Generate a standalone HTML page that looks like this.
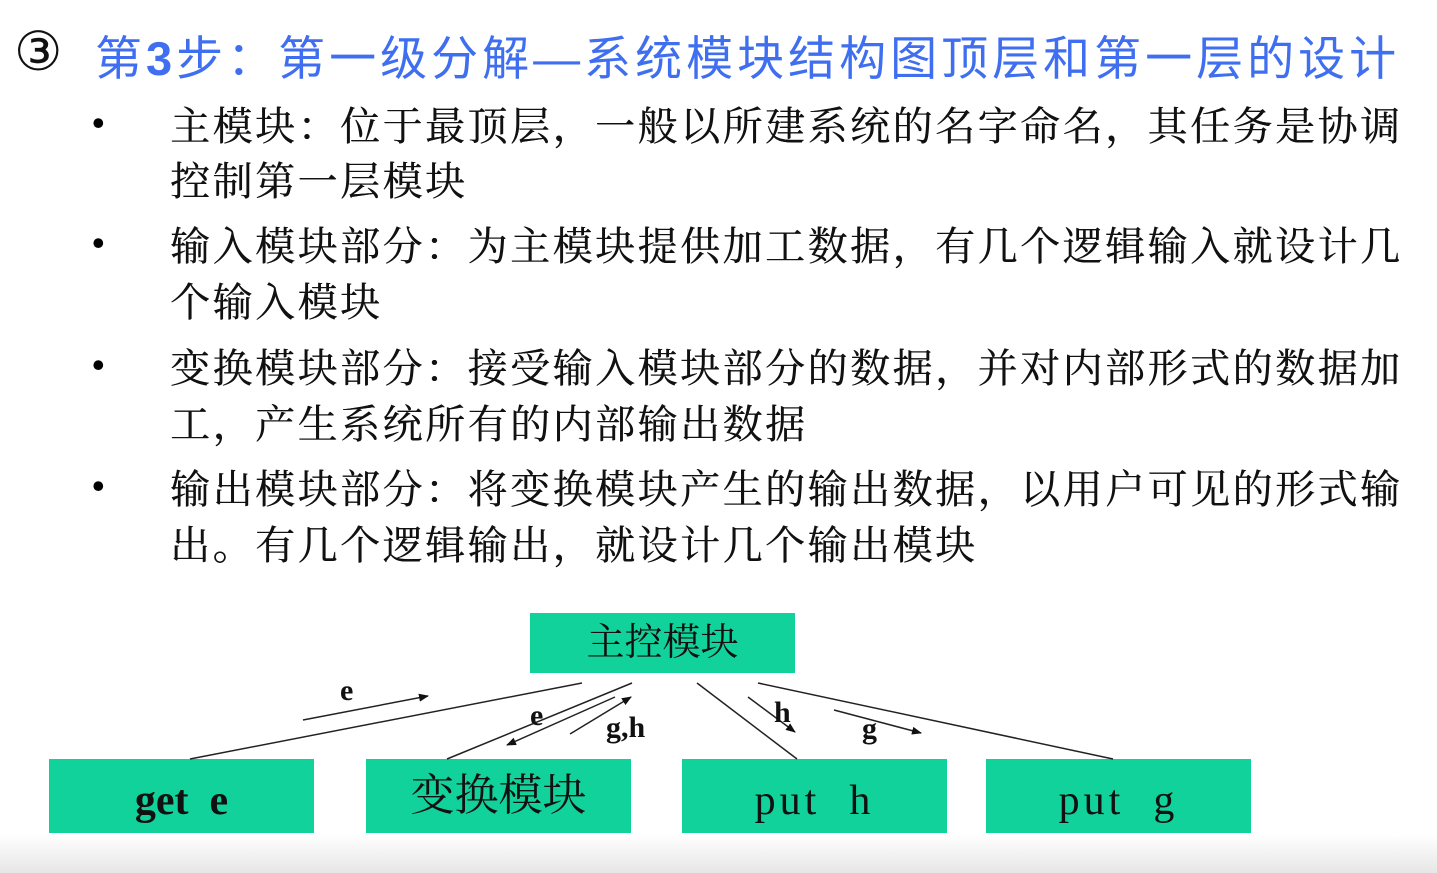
<!DOCTYPE html>
<html><head><meta charset="utf-8"><style>
body{margin:0;width:1437px;height:873px;background:#fff;position:relative;overflow:hidden;font-family:"Liberation Serif","Noto Serif CJK SC","Noto Sans CJK SC",serif;}
.t{position:absolute;white-space:nowrap;color:#111;}
.b{font-size:40px;left:170px;letter-spacing:2.5px;text-shadow:0.4px 0 0 #111;}
.dot{position:absolute;left:92px;font-size:36px;font-weight:bold;}
.box{position:absolute;background:#12d29c;color:#111;text-align:center;}
.fade{position:absolute;left:0;top:835px;width:1437px;height:38px;background:linear-gradient(#fff,#e6e6e6);}
</style></head><body>
<div class="fade"></div>
<div class="t" style="left:14px;top:20px;font-size:54px;font-family:'DejaVu Sans',sans-serif;">③</div>
<div class="t" style="left:95px;top:20px;font-size:47px;color:#3f6ff0;letter-spacing:4px;font-family:'Liberation Sans','Noto Sans CJK SC',sans-serif;">第<b>3</b>步：第一级分解—系统模块结构图顶层和第一层的设计</div>
<div class="dot" style="top:102px">•</div>
<div class="t b" style="top:95px">主模块：位于最顶层，一般以所建系统的名字命名，其任务是协调</div>
<div class="t b" style="top:150px">控制第一层模块</div>
<div class="dot" style="top:222px">•</div>
<div class="t b" style="top:215px">输入模块部分：为主模块提供加工数据，有几个逻辑输入就设计几</div>
<div class="t b" style="top:271px">个输入模块</div>
<div class="dot" style="top:344px">•</div>
<div class="t b" style="top:337px">变换模块部分：接受输入模块部分的数据，并对内部形式的数据加</div>
<div class="t b" style="top:393px">工，产生系统所有的内部输出数据</div>
<div class="dot" style="top:465px">•</div>
<div class="t b" style="top:458px">输出模块部分：将变换模块产生的输出数据，以用户可见的形式输</div>
<div class="t b" style="top:514px">出。有几个逻辑输出，就设计几个输出模块</div>

<div class="box" style="left:530px;top:613px;width:265px;height:60px;font-size:38px;line-height:60px;">主控模块</div>
<div class="box" style="left:49px;top:759px;width:265px;height:74px;font-size:42px;line-height:84px;font-weight:bold;">get&nbsp; e</div>
<div class="box" style="left:366px;top:759px;width:265px;height:74px;font-size:44px;line-height:74px;">变换模块</div>
<div class="box" style="left:682px;top:759px;width:265px;height:74px;font-size:42px;line-height:84px;letter-spacing:4px;">put&nbsp;&nbsp;h</div>
<div class="box" style="left:986px;top:759px;width:265px;height:74px;font-size:42px;line-height:84px;letter-spacing:4px;">put&nbsp;&nbsp;g</div>

<svg style="position:absolute;left:0;top:0" width="1437" height="873">
<defs><marker id="a" markerWidth="10" markerHeight="8" refX="9" refY="4" orient="auto" markerUnits="userSpaceOnUse"><path d="M0,0L10,4L0,8z" fill="#111"/></marker></defs>
<g stroke="#222" stroke-width="1.5" fill="none">
<line x1="190" y1="759" x2="582" y2="683"/>
<line x1="447" y1="759" x2="632" y2="683"/>
<line x1="697" y1="683" x2="797" y2="759"/>
<line x1="758" y1="683" x2="1113" y2="759"/>
<line x1="303" y1="720" x2="428" y2="696" marker-end="url(#a)"/>
<line x1="615" y1="697" x2="507" y2="745" marker-end="url(#a)"/>
<line x1="570" y1="734" x2="631" y2="697" marker-end="url(#a)"/>
<line x1="748" y1="697" x2="795" y2="732" marker-end="url(#a)"/>
<line x1="834" y1="710" x2="921" y2="733" marker-end="url(#a)"/>
</g>
<g font-family="Liberation Serif,serif" font-weight="bold" font-size="30" fill="#111">
<text x="340" y="700">e</text>
<text x="530" y="725">e</text>
<text x="606" y="737">g,h</text>
<text x="774" y="722">h</text>
<text x="862" y="738">g</text>
</g>
</svg>
</body></html>
